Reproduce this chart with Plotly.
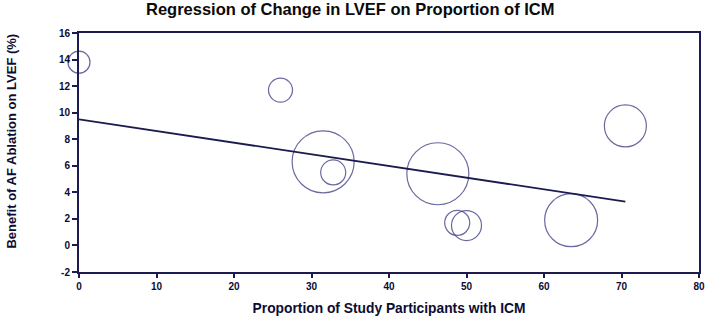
import plotly.graph_objects as go

# Data
icm_pct = [0, 26, 31.5, 32.8, 46.3, 48.8, 50.0, 63.5, 70.5]
lvef_benefit = [13.8, 11.7, 6.3, 5.5, 5.4, 1.7, 1.5, 1.9, 9.0]
study_weight = [22, 24, 62, 25, 62, 25, 30, 53, 42]

reg_x = [0, 70.5]
reg_y = [9.5, 3.3]

x_ticks = [0, 10, 20, 30, 40, 50, 60, 70, 80]
y_ticks = [-2, 0, 2, 4, 6, 8, 10, 12, 14, 16]

navy = "#2b2b7a"
axis_col = "#1b1b4f"
text_col = "#0c0c32"
font_fam = "Liberation Sans, Arial, sans-serif"

fig = go.Figure()
fig.add_trace(go.Scatter(
    x=icm_pct, y=lvef_benefit, mode="markers", cliponaxis=False,
    marker=dict(size=study_weight, sizemode="diameter", color="rgba(0,0,0,0)",
                line=dict(color=navy, width=1.2)),
    showlegend=False, hoverinfo="x+y"))
fig.add_trace(go.Scatter(
    x=reg_x, y=reg_y, mode="lines", cliponaxis=False,
    line=dict(color=axis_col, width=1.8), showlegend=False))

fig.update_layout(
    width=709, height=325, autosize=False,
    margin=dict(l=79, r=4, t=33, b=53),
    paper_bgcolor="white", plot_bgcolor="white",
    title=dict(text="<b>Regression of Change in LVEF on Proportion of ICM</b>",
               x=0.494, xanchor="center", y=0.972, yanchor="middle",
               font=dict(family=font_fam, size=16.5, color="#0a0a0a")),
    font=dict(family=font_fam, color=text_col),
    annotations=[dict(
        text="<b>Benefit of AF Ablation on LVEF (%)</b>", textangle=-90,
        xref="paper", yref="paper", x=0, y=0.548, xanchor="center", yanchor="middle",
        xshift=-67.5, showarrow=False, font=dict(size=13, color=text_col))],
)
fig.update_xaxes(
    range=[0, 80], tickvals=x_ticks, ticktext=[f"<b>{v}</b>" for v in x_ticks],
    showgrid=False, zeroline=False, showline=True, linecolor=axis_col, linewidth=2,
    mirror=True, ticks="outside", ticklen=4, tickwidth=2, tickcolor=axis_col,
    tickfont=dict(size=10, color=text_col),
    title=dict(text="<b>Proportion of Study Participants with ICM</b>",
               font=dict(size=13.8, color=text_col), standoff=12),
)
fig.update_yaxes(
    range=[-2, 16], tickvals=y_ticks, ticktext=[f"<b>{v}</b>" for v in y_ticks],
    showgrid=False, zeroline=False, showline=True, linecolor=axis_col, linewidth=2,
    mirror=True, ticks="outside", ticklen=5, tickwidth=2, tickcolor=axis_col,
    tickfont=dict(size=10, color=text_col),
)

fig.write_html("out.html",
               config={"displayModeBar": False, "responsive": False},
               post_script="document.body.style.margin='0';document.body.style.overflow='hidden';")
